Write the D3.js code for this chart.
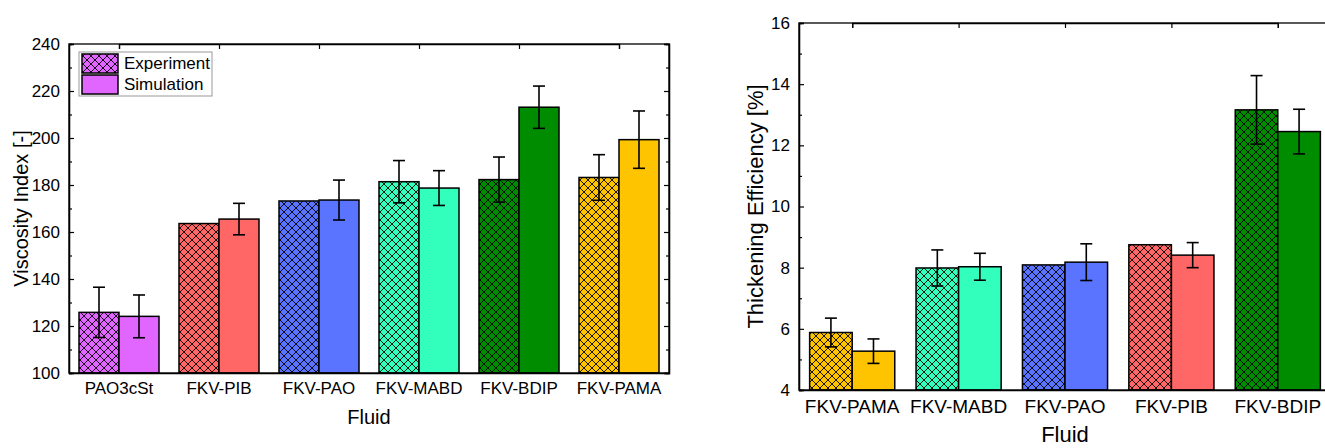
<!DOCTYPE html>
<html>
<head>
<meta charset="utf-8">
<script src="https://cdn.jsdelivr.net/npm/d3@7"></script>
<style>
  body { margin: 0; background: #fff; }
  svg { display: block; font-family: "Liberation Sans", Arial, sans-serif; }
</style>
</head>
<body>
<svg id="chart" width="1325" height="448"></svg>
<script>
// left panel: viscosity index
let viCategories = ["PAO3cSt", "FKV-PIB", "FKV-PAO", "FKV-MABD", "FKV-BDIP", "FKV-PAMA"];
let viExp = [125.8, 163.6, 173.2, 181.4, 182.3, 183.2];
let viExpErr = [10.7, 0, 0, 9.0, 9.6, 9.7];
let viSim = [124.1, 165.5, 173.6, 178.7, 213.1, 199.3];
let viSimErr = [9.1, 6.7, 8.5, 7.4, 9.0, 12.2];
let viColors = ["#E066FF", "#FF6666", "#5A74FF", "#33FFBD", "#008C00", "#FFC400"];
let viTicks = [100, 120, 140, 160, 180, 200, 220, 240];

// right panel: thickening efficiency
let teCategories = ["FKV-PAMA", "FKV-MABD", "FKV-PAO", "FKV-PIB", "FKV-BDIP"];
let teExp = [5.88, 7.99, 8.09, 8.75, 13.16];
let teExpErr = [0.47, 0.59, 0, 0, 1.12];
let teSim = [5.27, 8.03, 8.18, 8.41, 12.45];
let teSimErr = [0.40, 0.44, 0.60, 0.41, 0.73];
let teColors = ["#FFC400", "#33FFBD", "#5A74FF", "#FF6666", "#008C00"];
let teTicks = [4, 6, 8, 10, 12, 14, 16];

let legendLabels = ["Experiment", "Simulation"];

const FONT = "'Liberation Sans', Arial, sans-serif";
let svg = d3.select("#chart");
let defs = svg.append("defs");

// one crosshatch pattern per colour
function hatchId(color) {
    return "hatch" + color.replace("#", "");
}
Array.from(new Set(viColors.concat(teColors))).forEach(c => {
    let p = defs.append("pattern")
        .attr("id", hatchId(c))
        .attr("patternUnits", "userSpaceOnUse")
        .attr("width", 8).attr("height", 8);
    p.append("rect").attr("width", 8).attr("height", 8).attr("fill", c);
    p.append("path")
        .attr("d", "M0,0L8,8M8,0L0,8M-1,7L1,9M7,-1L9,1M-1,1L1,-1M7,9L9,7")
        .attr("stroke", "#000").attr("stroke-width", 0.9);
});

function drawPanel(opts) {
    let left = opts.left, right = opts.right, top = opts.top, bottom = opts.bottom;
    let g = svg.append("g");

    let x = d3.scaleBand().domain(opts.categories).range([left, right])
        .paddingInner(0.2).paddingOuter(0.1);
    let y = d3.scaleLinear().domain(opts.domain).range([bottom, top]);
    let half = x.bandwidth() / 2;

    // bars
    let rows = opts.categories.map((c, i) => ({
        cat: c, color: opts.colors[i],
        exp: opts.exp[i], expErr: opts.expErr[i],
        sim: opts.sim[i], simErr: opts.simErr[i]
    }));
    let bars = g.append("g").selectAll("g").data(rows).enter().append("g");
    bars.append("rect")
        .attr("x", d => x(d.cat))
        .attr("y", d => y(d.exp))
        .attr("width", half)
        .attr("height", d => y(opts.domain[0]) - y(d.exp))
        .attr("fill", d => `url(#${hatchId(d.color)})`)
        .attr("stroke", "#000").attr("stroke-width", 1.5);
    bars.append("rect")
        .attr("x", d => x(d.cat) + half)
        .attr("y", d => y(d.sim))
        .attr("width", half)
        .attr("height", d => y(opts.domain[0]) - y(d.sim))
        .attr("fill", d => d.color)
        .attr("stroke", "#000").attr("stroke-width", 1.5);

    // error bars (none drawn where the error is 0)
    let errs = [];
    rows.forEach(d => {
        if (d.expErr > 0) errs.push({cx: x(d.cat) + half / 2, v: d.exp, e: d.expErr});
        if (d.simErr > 0) errs.push({cx: x(d.cat) + half * 1.5, v: d.sim, e: d.simErr});
    });
    let eb = g.append("g").attr("stroke", "#000").attr("stroke-width", 1.6)
        .selectAll("g").data(errs).enter().append("g");
    eb.append("line").attr("x1", d => d.cx).attr("x2", d => d.cx)
        .attr("y1", d => y(d.v + d.e)).attr("y2", d => y(d.v - d.e));
    eb.append("line").attr("x1", d => d.cx - 6).attr("x2", d => d.cx + 6)
        .attr("y1", d => y(d.v + d.e)).attr("y2", d => y(d.v + d.e));
    eb.append("line").attr("x1", d => d.cx - 6).attr("x2", d => d.cx + 6)
        .attr("y1", d => y(d.v - d.e)).attr("y2", d => y(d.v - d.e));

    // minor ticks halfway between majors
    let minors = [];
    for (let i = 0; i < opts.ticks.length - 1; i++) {
        minors.push((opts.ticks[i] + opts.ticks[i + 1]) / 2);
    }

    // left axis
    let ax = g.append("g").attr("transform", `translate(${left},0)`)
        .call(d3.axisLeft(y).tickValues(opts.ticks).tickSize(-5).tickPadding(9));
    ax.selectAll("text").attr("font-size", opts.yTickSize).attr("fill", "#000").attr("font-family", FONT);
    g.append("g").attr("transform", `translate(${left},0)`)
        .call(d3.axisLeft(y).tickValues(minors).tickSize(-3).tickFormat(""));
    // right axis, ticks only
    g.append("g").attr("transform", `translate(${right},0)`)
        .call(d3.axisRight(y).tickValues(opts.ticks).tickSize(-5).tickFormat(""));
    g.append("g").attr("transform", `translate(${right},0)`)
        .call(d3.axisRight(y).tickValues(minors).tickSize(-3).tickFormat(""));
    // top axis, ticks at category centres
    let n = opts.categories.length;
    g.append("g").attr("transform", `translate(0,${top})`)
        .call(d3.axisTop(d3.scalePoint().domain(opts.categories)
            .range([x(opts.categories[0]) + half, x(opts.categories[n - 1]) + half]))
            .tickSize(-5).tickFormat(""));
    // bottom axis, labels only
    let bx = g.append("g").attr("transform", `translate(0,${bottom})`)
        .call(d3.axisBottom(x).tickSize(0).tickPadding(opts.labelPad));
    bx.selectAll("text").attr("font-size", opts.xTickSize).attr("fill", "#000").attr("font-family", FONT);

    g.selectAll(".domain").attr("stroke", "#000").attr("stroke-width", 1.3);
    g.selectAll(".tick line").attr("stroke", "#000").attr("stroke-width", 1.2);

    // frame
    g.append("rect").attr("x", left).attr("y", top)
        .attr("width", right - left).attr("height", bottom - top)
        .attr("fill", "none").attr("stroke", "#000").attr("stroke-width", 1.3);

    // axis titles
    g.append("text")
        .attr("x", (left + right) / 2).attr("y", opts.xTitleY)
        .attr("text-anchor", "middle").attr("font-size", opts.titleSize).text("Fluid");
    g.append("text")
        .attr("transform", `translate(${opts.yTitleX},${(top + bottom) / 2}) rotate(-90)`)
        .attr("text-anchor", "middle").attr("font-size", opts.titleSize).text(opts.yTitle);

    return g;
}

let gLeft = drawPanel({
    left: 69, right: 669, top: 44, bottom: 373,
    categories: viCategories, domain: [100, 240], ticks: viTicks,
    exp: viExp, expErr: viExpErr, sim: viSim, simErr: viSimErr, colors: viColors,
    yTickSize: 17, xTickSize: 17, titleSize: 20,
    labelPad: 9, xTitleY: 424, yTitleX: 28, yTitle: "Viscosity Index [-]"
});

drawPanel({
    left: 799, right: 1331, top: 23, bottom: 390,
    categories: teCategories, domain: [4, 16], ticks: teTicks,
    exp: teExp, expErr: teExpErr, sim: teSim, simErr: teSimErr, colors: teColors,
    yTickSize: 17, xTickSize: 19, titleSize: 22,
    labelPad: 10, xTitleY: 442, yTitleX: 763, yTitle: "Thickening Efficiency [%]"
});

// legend on the left panel
let lg = gLeft.append("g").attr("transform", "translate(79,52)");
lg.append("rect").attr("width", 133).attr("height", 44)
    .attr("fill", "#fff").attr("stroke", "#999").attr("stroke-width", 1);
legendLabels.forEach((t, i) => {
    lg.append("rect").attr("x", 3).attr("y", 2 + i * 21).attr("width", 36).attr("height", 19)
        .attr("fill", i === 0 ? `url(#${hatchId(viColors[0])})` : viColors[0])
        .attr("stroke", "#000").attr("stroke-width", 1.5);
    lg.append("text").attr("x", 45).attr("y", 17 + i * 21)
        .attr("font-size", 17).text(t);
});
</script>
</body>
</html>
